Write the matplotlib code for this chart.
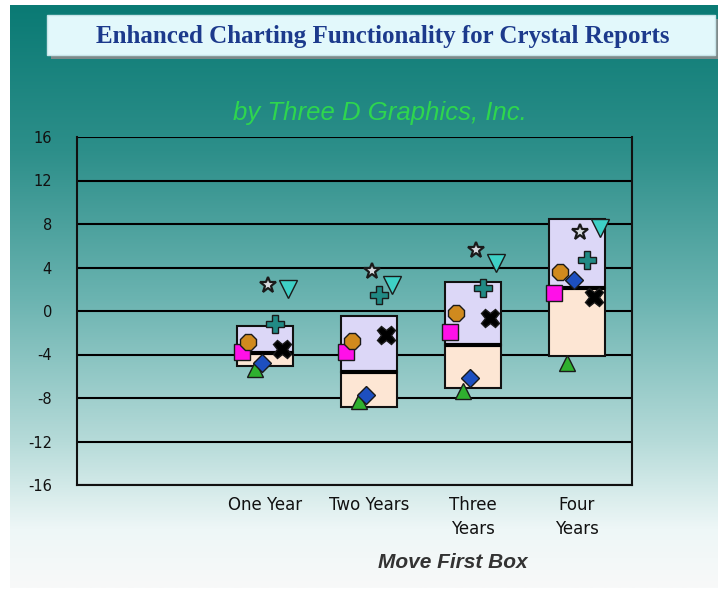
import numpy as np
import matplotlib
matplotlib.use('Agg')
import matplotlib.pyplot as plt
from matplotlib.patches import Rectangle
from matplotlib.colors import LinearSegmentedColormap

plt.rcParams['axes.unicode_minus'] = False

# data
categories = ['One Year', 'Two Years', 'Three\nYears', 'Four\nYears']
box_top = [-1.4, -0.45, 2.65, 8.5]
box_median = [-3.85, -5.6, -3.15, 2.1]
box_bottom = [-5.1, -8.8, -7.1, -4.15]

sq_vals = [-3.8, -3.75, -1.9, 1.7]
circ_vals = [-2.85, -2.8, -0.2, 3.55]
triup_vals = [-5.3, -8.3, -7.4, -4.75]
diam_vals = [-4.8, -7.7, -6.15, 2.85]
star_vals = [2.35, 3.65, 5.6, 7.3]
plus_vals = [-1.2, 1.45, 2.1, 4.7]
x_vals = [-3.5, -2.2, -0.6, 1.3]
tridn_vals = [2.0, 2.4, 4.4, 7.6]

W, H = 718, 590
fig = plt.figure(figsize=(W / 100, H / 100), dpi=100)

# background gradient panel
bg = fig.add_axes([0, 0, 1, 1])
bg.set_xlim(0, W)
bg.set_ylim(H, 0)
bg.axis('off')
cmap = LinearSegmentedColormap.from_list('bg', [
    (0.0, '#0a7a74'), (0.25, '#2d8f8a'), (0.5, '#6ab3b0'),
    (0.75, '#b6dbd9'), (0.9, '#eef7f7'), (1.0, '#f8f9f9')])
grad = np.linspace(0, 1, 256).reshape(-1, 1)
bg.imshow(grad, cmap=cmap, aspect='auto', extent=[10, 718, 588, 5], zorder=0)

# title box with shadow
bg.add_patch(Rectangle((51, 19), 670, 40, facecolor='#7d8a8a', edgecolor='none', zorder=1))
bg.add_patch(Rectangle((47, 15), 668, 40, facecolor='#e2f8fb', edgecolor='#c8e4e8', lw=1, zorder=2))
bg.text(383, 36, 'Enhanced Charting Functionality for Crystal Reports', ha='center', va='center',
        fontsize=18, fontweight='bold', family='Liberation Serif', color='#1c3a8c', zorder=3)
bg.text(380, 113, 'by Three D Graphics, Inc.', ha='center', va='center', fontsize=18.5,
        style='italic', family='Liberation Sans', color='#2ed64e', zorder=3)

ax = fig.add_axes([77 / W, 1 - 485 / H, 555 / W, 348 / H])
ax.patch.set_alpha(0)
ax.set_ylim(-16, 16)
ax.set_xlim(-1.81, 3.53)
ax.set_yticks(np.arange(-16, 17, 4))
ax.yaxis.grid(True, color='black', lw=1.5)
ax.set_axisbelow(True)
for s in ['left', 'bottom', 'right']:
    ax.spines[s].set_linewidth(1.5)
    ax.spines[s].set_color('#111111')
ax.spines['top'].set_visible(False)
ax.tick_params(axis='y', length=0, pad=18, labelsize=10.5, colors='#111111')
ax.tick_params(axis='x', length=0, pad=8)

x = np.arange(len(categories))
top = np.array(box_top)
med = np.array(box_median)
bot = np.array(box_bottom)
bw = 0.54
ax.bar(x, top - med, bottom=med, width=bw, color='#dcd7f7', edgecolor='#111111', lw=1.5, zorder=2)
ax.bar(x, med - bot, bottom=bot, width=bw, color='#fde6d4', edgecolor='#111111', lw=1.5, zorder=2)
ax.hlines(med, x - bw / 2, x + bw / 2, color='black', lw=3, zorder=3)

step = 0.064
series = [
    (sq_vals, 's', '#ff10e8', 12, 1),
    (circ_vals, '8', '#d08a1e', 12, 1),
    (triup_vals, '^', '#2fb02f', 12, 1),
    (diam_vals, 'D', '#1d4fc0', 9, 1),
    (star_vals, '*', '#d8dadf', 12, 1.6),
    (plus_vals, 'P', '#218a85', 13, 1),
    (x_vals, 'X', '#000000', 13, 1),
    (tridn_vals, 'v', '#3ed0c6', 13, 1),
]
for i, (vals, m, c, ms, mew) in enumerate(series):
    off = (i - 3.5) * step
    ax.plot(x + off, vals, ls='none', marker=m, ms=ms, mfc=c, mec='#1a1a1a', mew=mew, zorder=4)

ax.set_xticks(x)
ax.set_xticklabels(categories, fontsize=12, family='DejaVu Sans', color='#111111', linespacing=1.4)
ax.set_xlabel('Move First Box', fontsize=15, fontweight='bold', style='italic',
              family='Liberation Sans', color='#333333')
ax.xaxis.set_label_coords((453 - 77) / 555, -(553 - 485) / 348)

fig.savefig('out.png', dpi=100)
